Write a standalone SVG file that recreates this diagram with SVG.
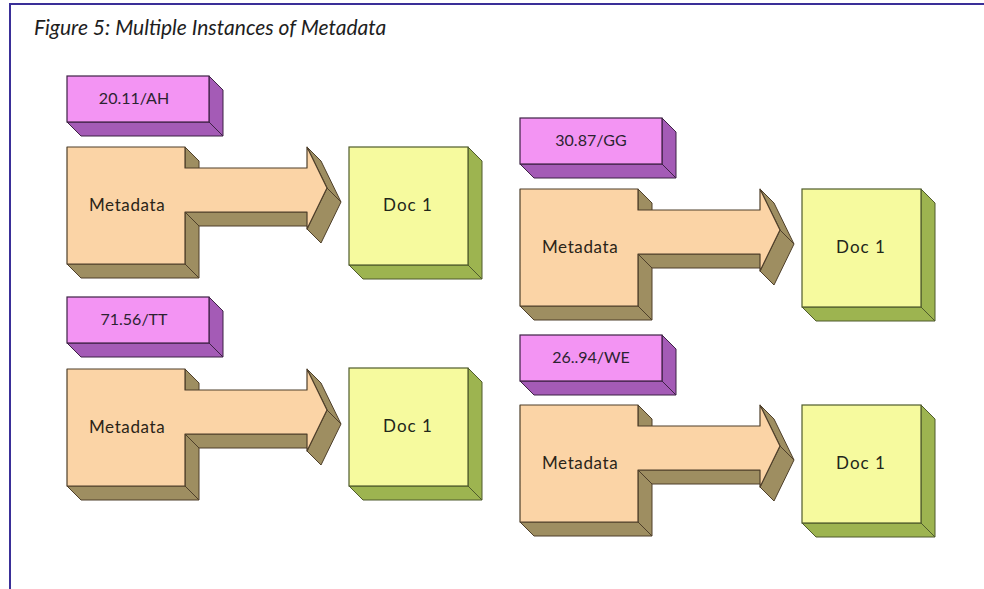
<svg xmlns="http://www.w3.org/2000/svg" xmlns:xlink="http://www.w3.org/1999/xlink" width="984" height="589" viewBox="0 0 984 589">
  <style>
    .frame { fill: none; stroke: #3a2f98; stroke-width: 2; }
    .title { font-family: Lato, "Open Sans", "Liberation Sans", sans-serif; font-style: italic; font-size: 21px; fill: #1e1e1e; }
    .lbl { font-family: Lato, "Open Sans", "Liberation Sans", sans-serif; font-size: 16px; fill: #2b2330; text-anchor: middle; }
    .mtxt { font-family: Lato, "Open Sans", "Liberation Sans", sans-serif; font-size: 17px; letter-spacing: 0.6px; fill: #2b2418; }
    .dtxt { font-family: Lato, "Open Sans", "Liberation Sans", sans-serif; font-size: 17px; letter-spacing: 1px; fill: #22261a; text-anchor: middle; }
    .l-front { fill: #f394f3; stroke: #3d2244; stroke-width: 1.2; }
    .l-side { fill: #a45bb6; stroke: #3d2244; stroke-width: 1; stroke-linejoin: round; }
    .m-front { fill: #fbd4a6; stroke: #4e3f2a; stroke-width: 1.2; stroke-linejoin: round; }
    .m-side { fill: #9e8e61; stroke: #4e3f2a; stroke-width: 1; stroke-linejoin: round; }
    .d-front { fill: #f6fa9e; stroke: #4f5b2c; stroke-width: 1.2; }
    .d-side { fill: #9db450; stroke: #4f5b2c; stroke-width: 1; stroke-linejoin: round; }
  </style>
  <defs>
    <!-- extruded label block -->
    <g id="label-shape">
      <polygon class="l-side" points="142,0 156,14 156,60 142,46"/>
      <polygon class="l-side" points="0,46 142,46 156,60 14,60"/>
      <rect class="l-front" x="0" y="0" width="142" height="46"/>
    </g>
    <!-- extruded block-arrow: square body with a shaft and head -->
    <g id="meta-shape">
      <polygon class="m-side" points="118,0 132,14 132,35 118,21"/>
      <polygon class="m-side" points="118,65 240,65 254,79 132,79"/>
      <polygon class="m-side" points="118,65 132,79 132,131 118,117"/>
      <polygon class="m-side" points="0,117 118,117 132,131 14,131"/>
      <polygon class="m-side" points="240,0 254,14 274,55 260,41"/>
      <polygon class="m-side" points="260,41 274,55 254,96 240,82"/>
      <path class="m-front" d="M0,0 H118 V21 H240 V0 L260,41 L240,82 V65 H118 V117 H0 Z"/>
    </g>
    <!-- extruded document block -->
    <g id="doc-shape">
      <polygon class="d-side" points="119,0 133,14 133,132 119,118"/>
      <polygon class="d-side" points="0,118 119,118 133,132 14,132"/>
      <rect class="d-front" x="0" y="0" width="119" height="118"/>
    </g>
  </defs>

  <rect x="0" y="0" width="984" height="589" fill="#ffffff"/>
  <path class="frame" d="M10,589 V4 H984"/>
  <text class="title" x="34" y="35">Figure 5: Multiple Instances of Metadata</text>

  <!-- top-left set -->
  <g id="label1" transform="translate(67,76)">
    <use xlink:href="#label-shape" href="#label-shape"/>
    <text class="lbl" x="67" y="28">20.11/AH</text>
  </g>
  <g id="meta1" transform="translate(67,147)">
    <use xlink:href="#meta-shape" href="#meta-shape"/>
    <text class="mtxt" x="22" y="64">Metadata</text>
  </g>
  <g id="doc1" transform="translate(349,147)">
    <use xlink:href="#doc-shape" href="#doc-shape"/>
    <text class="dtxt" x="59" y="64">Doc 1</text>
  </g>

  <!-- top-right set -->
  <g id="label2" transform="translate(520,118)">
    <use xlink:href="#label-shape" href="#label-shape"/>
    <text class="lbl" x="71" y="28">30.87/GG</text>
  </g>
  <g id="meta2" transform="translate(520,189)">
    <use xlink:href="#meta-shape" href="#meta-shape"/>
    <text class="mtxt" x="22" y="64">Metadata</text>
  </g>
  <g id="doc2" transform="translate(802,189)">
    <use xlink:href="#doc-shape" href="#doc-shape"/>
    <text class="dtxt" x="59" y="64">Doc 1</text>
  </g>

  <!-- bottom-left set -->
  <g id="label3" transform="translate(67,297)">
    <use xlink:href="#label-shape" href="#label-shape"/>
    <text class="lbl" x="67" y="28">71.56/TT</text>
  </g>
  <g id="meta3" transform="translate(67,369)">
    <use xlink:href="#meta-shape" href="#meta-shape"/>
    <text class="mtxt" x="22" y="64">Metadata</text>
  </g>
  <g id="doc3" transform="translate(349,368)">
    <use xlink:href="#doc-shape" href="#doc-shape"/>
    <text class="dtxt" x="59" y="64">Doc 1</text>
  </g>

  <!-- bottom-right set -->
  <g id="label4" transform="translate(520,335)">
    <use xlink:href="#label-shape" href="#label-shape"/>
    <text class="lbl" x="71" y="28">26..94/WE</text>
  </g>
  <g id="meta4" transform="translate(520,405)">
    <use xlink:href="#meta-shape" href="#meta-shape"/>
    <text class="mtxt" x="22" y="64">Metadata</text>
  </g>
  <g id="doc4" transform="translate(802,405)">
    <use xlink:href="#doc-shape" href="#doc-shape"/>
    <text class="dtxt" x="59" y="64">Doc 1</text>
  </g>

  <!-- connectors: the block arrows above carry the links; no separate lines -->
  <g id="connectors"/>
</svg>
